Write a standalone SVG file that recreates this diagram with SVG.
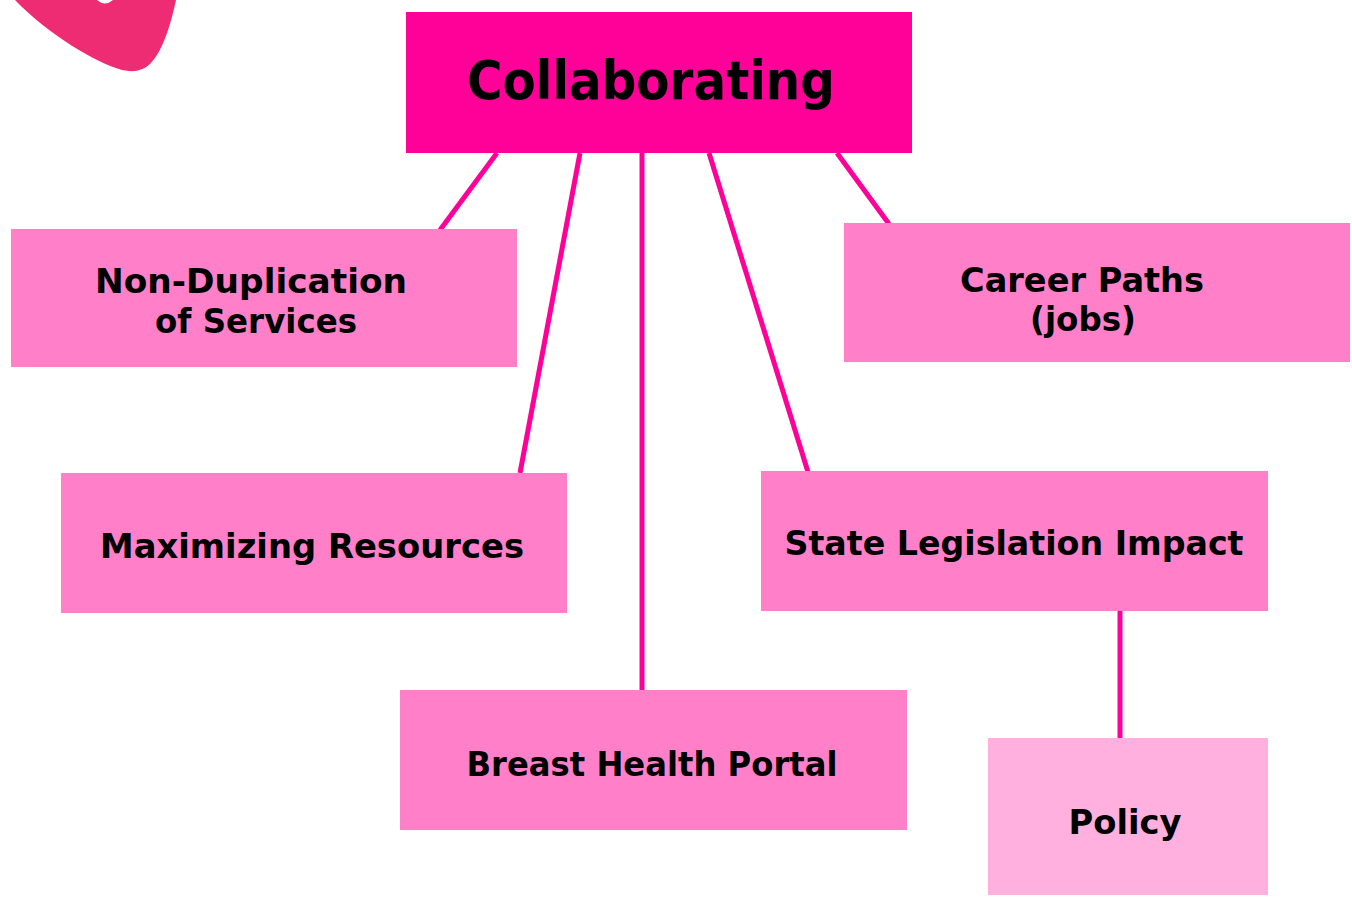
<svg xmlns="http://www.w3.org/2000/svg" width="1352" height="898" viewBox="0 0 1352 898">
<style>
.main{fill:#FF0099}
.box{fill:#FF80C8}
.sub{fill:#FFB0DE}
.lbl{font-family:"DejaVu Sans","Liberation Sans",sans-serif;font-weight:bold;font-size:33px;fill:#000;text-anchor:middle}
.big{font-family:"DejaVu Sans","Liberation Sans",sans-serif;font-weight:bold;font-size:54px;fill:#000;text-anchor:middle}
.conn line{stroke:#FF0099;stroke-width:5}
</style>
<rect width="1352" height="898" fill="#fff"/>
<path d="M15,0 L97,0 Q105,7 113,0 L176,0 C170,28 162,52 150,64 Q140,74 122,70 C95,62 50,36 15,0 Z" fill="#EE2C74"/>
<g id="connectors" class="conn">
<line x1="497" y1="153" x2="440" y2="230"/>
<line x1="580" y1="153" x2="520" y2="473"/>
<line x1="642" y1="153" x2="642" y2="691"/>
<line x1="709" y1="153" x2="808" y2="472"/>
<line x1="837" y1="153" x2="889" y2="224"/>
<line x1="1120" y1="611" x2="1120" y2="739"/>
</g>
<g id="collaborating">
<rect class="main" x="406" y="12" width="506" height="141"/>
<text class="big" x="651" y="99" textLength="368" lengthAdjust="spacingAndGlyphs">Collaborating</text>
</g>
<g id="nonduplication">
<rect class="box" x="11" y="229" width="506" height="138"/>
<text class="lbl" x="251" y="293" textLength="312" lengthAdjust="spacingAndGlyphs">Non-Duplication</text>
<text class="lbl" x="256" y="333" textLength="202" lengthAdjust="spacingAndGlyphs">of Services</text>
</g>
<g id="careerpaths">
<rect class="box" x="844" y="223" width="506" height="139"/>
<text class="lbl" x="1082" y="292" textLength="244" lengthAdjust="spacingAndGlyphs">Career Paths</text>
<text class="lbl" x="1083" y="331" textLength="106" lengthAdjust="spacingAndGlyphs">(jobs)</text>
</g>
<g id="maximizing">
<rect class="box" x="61" y="473" width="506" height="140"/>
<text class="lbl" x="312" y="558" textLength="424" lengthAdjust="spacingAndGlyphs">Maximizing Resources</text>
</g>
<g id="statelegislation">
<rect class="box" x="761" y="471" width="507" height="140"/>
<text class="lbl" x="1014" y="555" textLength="459" lengthAdjust="spacingAndGlyphs">State Legislation Impact</text>
</g>
<g id="breasthealth">
<rect class="box" x="400" y="690" width="507" height="140"/>
<text class="lbl" x="652" y="776" textLength="371" lengthAdjust="spacingAndGlyphs">Breast Health Portal</text>
</g>
<g id="policy">
<rect class="sub" x="988" y="738" width="280" height="157"/>
<text class="lbl" x="1125" y="834" textLength="113" lengthAdjust="spacingAndGlyphs">Policy</text>
</g>
</svg>
